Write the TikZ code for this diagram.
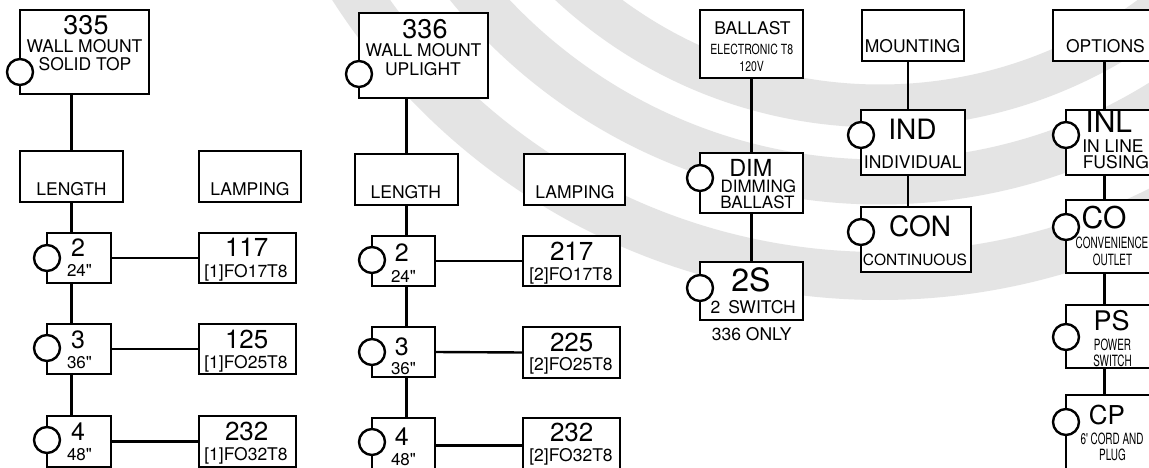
\documentclass[tikz,border=0pt]{standalone}
\usepackage{fontspec}
\setmainfont{TeX Gyre Heros}[Ligatures=TeXOff]
\newfontfamily\condA{TeX Gyre Heros}[FakeStretch=0.75, Ligatures=TeXOff]
\newfontfamily\condB{TeX Gyre Heros}[FakeStretch=0.64, Ligatures=TeXOff]
\newcommand\fs[1]{\fontsize{#1}{#1}\selectfont}
\definecolor{arcgray}{HTML}{E4E4E4}
\tikzset{
  box/.style={draw, line width=2.4pt, fill=white, inner sep=0pt, outer sep=0pt, anchor=north west},
  knob/.style={circle, draw, line width=2.4pt, fill=white, minimum size=26pt, inner sep=0pt, outer sep=0pt},
  lbl/.style={anchor=base, inner sep=0pt, outer sep=0pt},
  conn/.style={line width=2.4pt},
  band/.style={line width=#1, draw=arcgray}
}
\newcommand\bx[5]{\node[box, minimum width=#4pt, minimum height=#5pt] (#1) at (#2,#3) {};}
\newcommand\kn[3]{\node[knob] (#1) at (#2,#3) {};}
\newcommand\lb[5]{\node[lbl, font={\fs{#4}}] (#1) at (#2,#3) {#5};}
\newcommand\lbc[6]{\node[lbl, font={#6\fs{#4}}] (#1) at (#2,#3) {#5};}
\begin{document}
\begin{tikzpicture}[x=1pt, y=-1pt]
\clip (0,0) rectangle (1149,468);
\fill[white] (0,0) rectangle (1149,468);
% background arcs
\draw[band=48pt] (880,-350) circle[radius=626pt];
\draw[band=45pt] (880,-350) circle[radius=532pt];
\draw[band=43pt] (880,-350) circle[radius=456pt];

% ---- column 1
\bx{b335}{20}{10}{129}{84}
\bx{len1}{20}{151}{103}{51}
\bx{lamp1}{199}{151}{102}{51}
\bx{l2a}{47}{233}{64}{50}
\bx{l3a}{47}{324}{64}{50}
\bx{l4a}{47}{416}{64}{51}
\bx{p117}{199}{233}{97}{50}
\bx{p125}{199}{324}{97}{50}
\bx{p232a}{199}{416}{97}{51}
% ---- column 2
\bx{b336}{359}{13}{129}{85}
\bx{len2}{355}{154}{103}{51}
\bx{lamp2}{524}{154}{101}{51}
\bx{l2b}{372}{236}{63}{50}
\bx{l3b}{372}{327}{63}{50}
\bx{l4b}{372}{418}{63}{55}
\bx{p217}{523}{236}{97}{50}
\bx{p225}{523}{327}{97}{51}
\bx{p232b}{523}{418}{97}{55}
% ---- ballast
\bx{ball}{700}{10}{103}{68}
\bx{dim}{700}{153}{103}{60}
\bx{sw}{700}{262}{103}{58}
% ---- mounting
\bx{mount}{862}{10}{102}{51}
\bx{ind}{861}{110}{104}{65}
\bx{con}{861}{207}{110}{65}
% ---- options
\bx{opt}{1053}{10}{103}{51}
\bx{inl}{1066}{110}{92}{65}
\bx{co}{1066}{200}{92}{73}
\bx{ps}{1066}{305}{92}{63}
\bx{cp}{1066}{395}{92}{80}

\coordinate (mx) at (908,0);

% connectors
\draw[conn] (len1.north) -- (len1.north |- b335.south);
\draw[conn] (len1.south) -- (len1.south |- l2a.north);
\draw[conn] (l2a.south -| len1.south) -- (l3a.north -| len1.south);
\draw[conn] (l3a.south -| len1.south) -- (l4a.north -| len1.south);
\draw[conn] (l2a.east) -- (p117.west);
\draw[conn] (l3a.east) -- (p125.west);
\draw[conn] (l4a.east) -- (p232a.west);

\draw[conn] (len2.north) -- (len2.north |- b336.south);
\draw[conn] (len2.south) -- (len2.south |- l2b.north);
\draw[conn] (l2b.south -| len2.south) -- (l3b.north -| len2.south);
\draw[conn] (l3b.south -| len2.south) -- (l4b.north -| len2.south);
\draw[conn] (l2b.east) -- (p217.west);
\draw[conn] (l3b.east) -- (p225.west);
\draw[conn] (l4b.east) -- (p232b.west);

\draw[conn] (ball.south) -- (dim.north);
\draw[conn] (dim.south) -- (sw.north);

\draw[conn] (mount.south -| mx) -- (ind.north -| mx);
\draw[conn] (ind.south -| mx) -- (con.north -| mx);

\draw[conn] (opt.south) -- (opt.south |- inl.north);
\draw[conn] (inl.south -| opt.south) -- (co.north -| opt.south);
\draw[conn] (co.south -| opt.south) -- (ps.north -| opt.south);
\draw[conn] (ps.south -| opt.south) -- (cp.north -| opt.south);

% knobs
\kn{k335}{20}{72}
\kn{k2a}{47}{258}
\kn{k3a}{47}{348}
\kn{k4a}{47}{440}
\kn{k336}{359}{74}
\kn{k2b}{372}{260}
\kn{k3b}{372}{352}
\kn{k4b}{372}{442}
\kn{kdim}{700}{178}
\kn{ksw}{700}{288}
\kn{kind}{861}{135}
\kn{kcon}{861}{232}
\kn{kinl}{1066}{135}
\kn{kco}{1066}{227}
\kn{kps}{1066}{337}
\kn{kcp}{1066}{422}

% labels column 1
\lb{t335}{86}{35}{27}{335}
\lb{t335b}{84.5}{52.7}{17.5}{WALL MOUNT}
\lb{t335c}{85}{71}{17.5}{SOLID TOP}
\lb{tlen1}{71.5}{195}{17.5}{LENGTH}
\lb{tlamp1}{250}{195}{17.5}{LAMPING}
\lb{t2a}{78}{256.7}{25}{2}
\lb{t2ai}{79.5}{276.7}{17}{24"}
\lb{t3a}{78}{348}{25}{3}
\lb{t3ai}{79.5}{368}{17}{36"}
\lb{t4a}{78}{440}{25}{4}
\lb{t4ai}{79.5}{460}{17}{48"}
\lb{t117}{246.7}{256.7}{26}{117}
\lb{t117b}{246}{277}{17.5}{[1]FO17T8}
\lb{t125}{246.7}{348}{26}{125}
\lb{t125b}{246}{368.3}{17.5}{[1]FO25T8}
\lb{t232a}{246.7}{440}{26}{232}
\lb{t232ab}{246}{460}{17.5}{[1]FO32T8}
% labels column 2
\lb{t336}{425}{39}{27}{336}
\lb{t336b}{423.5}{57}{17.5}{WALL MOUNT}
\lb{t336c}{423}{75.5}{17.5}{UPLIGHT}
\lb{tlen2}{405.8}{198.3}{17.5}{LENGTH}
\lb{tlamp2}{575}{198.3}{17.5}{LAMPING}
\lb{t2b}{401.7}{261}{25}{2}
\lb{t2bi}{403.5}{282.5}{17}{24"}
\lb{t3b}{401.7}{355}{25}{3}
\lb{t3bi}{403.5}{374}{17}{36"}
\lb{t4b}{401.7}{445}{25}{4}
\lb{t4bi}{403.5}{465}{17}{48"}
\lb{t217}{571.7}{260}{26}{217}
\lb{t217b}{571}{280}{17.5}{[2]FO17T8}
\lb{t225}{571.7}{351}{26}{225}
\lb{t225b}{571}{370}{17.5}{[2]FO25T8}
\lb{t232b}{571.7}{441.7}{26}{232}
\lb{t232bb}{571}{461.7}{17.5}{[2]FO32T8}
% ballast
\lb{tball}{752.5}{35}{17.5}{BALLAST}
\lbc{tballb}{751.8}{55}{14}{ELECTRONIC T8}{\condA}
\lbc{tballc}{751.7}{71.7}{14}{120V}{\condA}
\lb{tdim}{750.8}{176.7}{23.5}{DIM}
\lb{tdimb}{758.3}{193}{17}{DIMMING}
\lb{tdimc}{757.5}{208.5}{17}{BALLAST}
\lb{tsw}{751}{291.7}{32}{2S}
\lb{tswb}{753.3}{313.3}{17.5}{2\hspace{0.45em}SWITCH}
\lb{tswc}{751.7}{340}{17.5}{336 ONLY}
% mounting
\lb{tmount}{912.5}{53}{17.5}{MOUNTING}
\lb{tind}{912.5}{139.3}{28}{IND}
\lb{tindb}{912.7}{169}{17.5}{INDIVIDUAL}
\lb{tcon}{920}{236.7}{28}{CON}
\lb{tconb}{915}{265.7}{15.5}{CONTINUOUS}
% options
\lb{topt}{1105.5}{53}{17.5}{OPTIONS}
\lb{tinl}{1108.8}{132.7}{30}{INL}
\lb{tinlb}{1113}{152.7}{17.5}{IN LINE}
\lb{tinlc}{1115.8}{169}{17.5}{FUSING}
\lb{tco}{1104}{228.5}{30}{CO}
\lbc{tcob}{1112}{248}{15.5}{CONVENIENCE}{\condB}
\lbc{tcoc}{1112.5}{265}{15.5}{OUTLET}{\condB}
\lb{tps}{1111.7}{330.7}{27}{PS}
\lbc{tpsb}{1112.5}{350.7}{15.5}{POWER}{\condB}
\lbc{tpsc}{1112.5}{366}{15.5}{SWITCH}{\condB}
\lb{tcp}{1107}{424}{26}{CP}
\lbc{tcpb}{1112}{444.3}{15.5}{6' CORD AND}{\condB}
\lbc{tcpc}{1112.5}{460}{15.5}{PLUG}{\condB}
\end{tikzpicture}
\end{document}
